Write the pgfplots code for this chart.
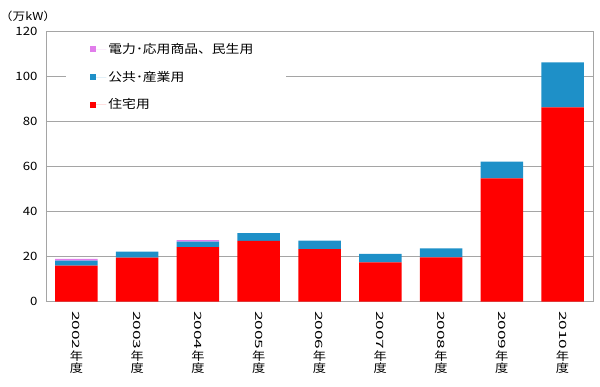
\documentclass[border=0pt]{standalone}
\usepackage{pgfplots}
\pgfplotsset{compat=1.18}
\usepackage{graphicx}
\usepackage{fontspec}
\setmainfont[FakeStretch=1.15]{Noto Sans CJK JP}
\definecolor{cRed}{RGB}{255,0,0}
\definecolor{cBlue}{RGB}{30,144,200}
\definecolor{cPink}{RGB}{225,125,235}
\definecolor{cGrid}{RGB}{165,165,165}
\newcommand{\yr}[1]{\rotatebox[origin=c]{-90}{\fontsize{10}{10}\selectfont\scalebox{1.5}[1]{#1}}\\年\\度}
\begin{document}
\begin{tikzpicture}
\path[use as bounding box] (0pt,0pt) rectangle (600pt,386pt);
\begin{axis}[
  at={(46pt,84.3pt)}, anchor=south west,
  scale only axis, width=547pt, height=270pt,
  ybar stacked, bar width=42.5pt,
  xmin=-0.5, xmax=8.5, ymin=0, ymax=120,
  ytick={0,20,...,120},
  xtick={0,...,8},
  xticklabels={{\yr{2002}},{\yr{2003}},{\yr{2004}},{\yr{2005}},{\yr{2006}},
    {\yr{2007}},{\yr{2008}},{\yr{2009}},{\yr{2010}}},
  xticklabel style={align=center, anchor=north, yshift=-6pt,
    font=\fontsize{11.5}{12}\selectfont},
  yticklabel style={font=\fontsize{11.5}{13}\selectfont, xshift=-5pt},
  /pgf/number format/assume math mode=true,
  major tick length=0pt,
  ymajorgrids, grid style={cGrid, line width=0.8pt},
  axis line style={cGrid, line width=0.8pt},
  reverse legend,
  legend style={at={(0.037,0.975)}, anchor=north west, draw=none, fill=white,
    inner xsep=24pt, inner ysep=3pt, row sep=12pt,
    font=\fontsize{12}{13}\selectfont},
  legend cell align=left,
  legend image code/.code={\fill[#1,draw=none] (0pt,-3pt) rectangle (6pt,3pt); \path (0pt,0pt) -- (16pt,0pt);},
]
\addplot[fill=cRed, draw=none] coordinates {(0,16.0) (1,19.6) (2,24.3) (3,27.0) (4,23.4) (5,17.5) (6,19.7) (7,54.8) (8,86.4)};
\addlegendentry{住宅用}
\addplot[fill=cBlue, draw=none] coordinates {(0,2.2) (1,2.6) (2,2.4) (3,3.5) (4,3.7) (5,3.7) (6,4.0) (7,7.4) (8,20.0)};
\addlegendentry{公共･産業用}
\addplot[fill=cPink, draw=none] coordinates {(0,0.8) (1,0) (2,0.7) (3,0) (4,0) (5,0) (6,0) (7,0) (8,0)};
\addlegendentry{電力･応用商品、民生用\rule{7pt}{0pt}}
\end{axis}
\node[font=\fontsize{11}{12}\selectfont] at (28pt,370pt) {（万kW）};
\end{tikzpicture}
\end{document}
